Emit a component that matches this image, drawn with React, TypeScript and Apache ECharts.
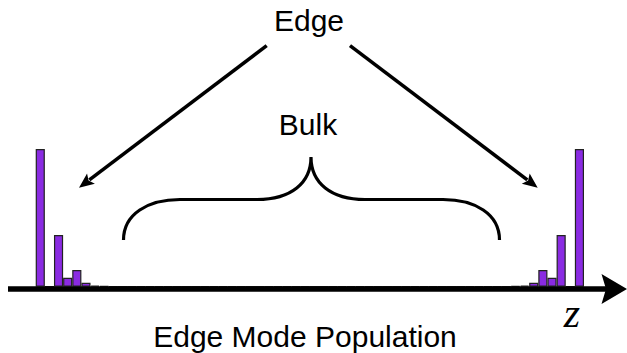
import React, { useEffect, useRef } from "react";
import * as echarts from "echarts";

// Histogram of the edge-mode population along z (60 bins, normalised height)
const binCount = 60;
const zBins: string[] = Array.from({ length: binCount }, (_, i) => String(i));
const populationValues: number[] = [
  1.0, 0, 0.375, 0.065, 0.121, 0.029, 0.008, 0.004, 0, 0,
  0, 0, 0, 0, 0, 0, 0, 0, 0, 0,
  0, 0, 0, 0, 0, 0, 0, 0, 0, 0,
  0, 0, 0, 0, 0, 0, 0, 0, 0, 0,
  0, 0, 0, 0, 0, 0, 0, 0, 0, 0,
  0, 0, 0.004, 0.008, 0.029, 0.121, 0.065, 0.375, 0, 1.0,
];

const titleTop = "Edge";
const bulkLabel = "Bulk";
const bottomTitle = "Edge Mode Population";
const axisName = "z";

function arrow(x1: number, y1: number, x2: number, y2: number) {
  const dx = x2 - x1;
  const dy = y2 - y1;
  const len = Math.sqrt(dx * dx + dy * dy);
  const ux = dx / len;
  const uy = dy / len;
  const headLen = 15;
  const halfW = 6.5;
  const bx = x2 - headLen * ux;
  const by = y2 - headLen * uy;
  const nx = -uy;
  const ny = ux;
  return [
    {
      type: "line",
      shape: { x1, y1, x2: bx + ux * 2, y2: by + uy * 2 },
      style: { stroke: "#000", lineWidth: 3.5 },
      z: 100,
    },
    {
      type: "polygon",
      shape: {
        points: [
          [x2, y2],
          [bx + halfW * nx, by + halfW * ny],
          [bx + 3 * ux, by + 3 * uy],
          [bx - halfW * nx, by - halfW * ny],
        ],
      },
      style: { fill: "#000" },
      z: 100,
    },
  ];
}

echarts.graphic.registerShape(
  "brace",
  echarts.graphic.extendPath(
    "M123.5,240 C123.5,214 148,199.5 180,199.5 L257,199.5 C291,199.5 311,183 311,157 C311,183 331,199.5 365,199.5 L443,199.5 C475,199.5 499.5,214 499.5,240",
    {}
  ) as any
);

export default function App() {
  const ref = useRef<HTMLDivElement>(null);
  useEffect(() => {
    if (!ref.current) return;
    const chart = echarts.init(ref.current, undefined, { renderer: "svg" });
    const font = "Liberation Sans, Arial, sans-serif";
    chart.setOption({
      animation: false,
      backgroundColor: "#fff",
      grid: { left: 35.7, top: 149, width: 548.3, height: 137.7 },
      xAxis: {
        type: "category",
        data: zBins,
        show: false,
        boundaryGap: true,
      },
      yAxis: { type: "value", min: 0, max: 1, show: false },
      series: [
        {
          type: "bar",
          data: populationValues,
          barCategoryGap: "0%",
          itemStyle: { color: "#8a2be2", borderColor: "#222", borderWidth: 1.2 },
        },
      ],
      graphic: [
        // z axis line and arrow head
        {
          type: "rect",
          shape: { x: 8, y: 286.2, width: 604, height: 5.6 },
          style: { fill: "#000" },
          z: 100,
        },
        {
          type: "polygon",
          shape: {
            points: [
              [627, 289],
              [601.5, 274],
              [606, 289],
              [601.5, 304],
            ],
          },
          style: { fill: "#000" },
          z: 100,
        },
        {
          type: "text",
          x: 572,
          y: 312.5,
          style: {
            text: axisName,
            font: "italic 42px 'Liberation Serif', 'DejaVu Serif', serif",
            fill: "#000",
            align: "center",
            verticalAlign: "middle",
          },
          z: 100,
        },
        {
          type: "text",
          x: 309,
          y: 20.6,
          style: {
            text: titleTop,
            font: `30px ${font}`,
            fill: "#000",
            align: "center",
            verticalAlign: "middle",
          },
        },
        {
          type: "text",
          x: 308,
          y: 124,
          style: {
            text: bulkLabel,
            font: `30px ${font}`,
            fill: "#000",
            align: "center",
            verticalAlign: "middle",
          },
        },
        {
          type: "text",
          x: 305,
          y: 336.5,
          style: {
            text: bottomTitle,
            font: `30px ${font}`,
            fill: "#000",
            align: "center",
            verticalAlign: "middle",
          },
        },
        {
          type: "brace",
          x: 0,
          y: 0,
          style: { stroke: "#000", lineWidth: 3.2, fill: null },
          z: 100,
        },
        ...arrow(266.7, 45.7, 79, 187.7),
        ...arrow(350, 45.7, 537.7, 187.7),
      ],
    });
    return () => chart.dispose();
  }, []);
  return (
    <div
      ref={ref}
      style={{ position: "fixed", left: 0, top: 0, width: 627, height: 353 }}
    />
  );
}
